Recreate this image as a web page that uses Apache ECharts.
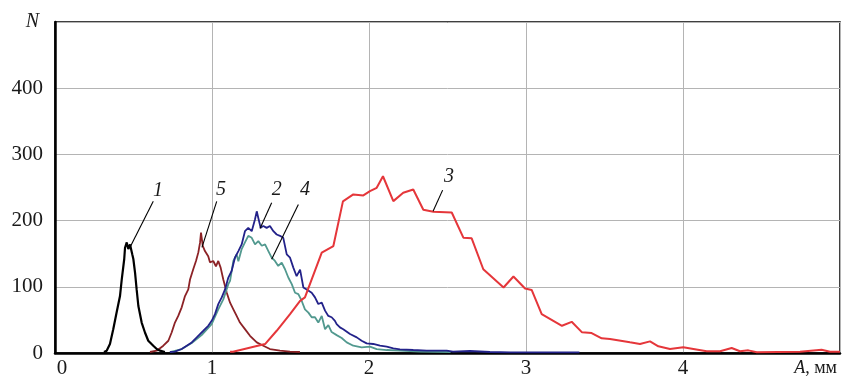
<!DOCTYPE html>
<html>
<head>
<meta charset="utf-8">
<script src="https://cdn.jsdelivr.net/npm/echarts@6/dist/echarts.min.js"></script>
<style>
  html, body { margin: 0; padding: 0; background: #fff; }
  #chart { width: 843px; height: 379px; }
</style>
</head>
<body>
<div id="chart"></div>
<script>
// Amplitude distributions N(A), A in mm
const xTicks = [0, 1, 2, 3, 4];
const yTicks = [0, 100, 200, 300, 400];

// Curve 1
const a1 = [0.312,0.329,0.350,0.371,0.393,0.414,0.425,0.441,0.446,0.457,0.467,0.478,0.492,0.499,0.510,0.520,0.531,0.552,0.573,0.594,0.626,0.648,0.669,0.700];
const n1 = [1.5,3.5,13.6,36,62,86,111,142,159,167,157,164,149,142,121,96,71,46,31,18.5,11,6,3.5,1.5];

// Curve 5
const a5 = [0.605,0.648,0.690,0.722,0.743,0.764,0.785,0.807,0.828,0.849,0.860,0.881,0.898,0.913,0.924,0.930,0.941,0.955,0.976,0.987,1.008,1.025,1.040,1.055,1.072,1.094,1.115,1.136,1.157,1.178,1.210,1.242,1.285,1.327,1.369,1.433,1.497,1.560];
const n5 = [1.5,3.5,11,18.5,31,46,56,69,86,96,111,127,139,152,167,182,162,154,146,137,139,131,139,129,111,91,76,66,56,46,36,26,16,11,6,3.5,2,1.5];

// Curve 2
const a2 = [0.732,0.764,0.807,0.839,0.871,0.903,0.945,0.976,0.998,1.019,1.040,1.062,1.083,1.104,1.125,1.146,1.168,1.189,1.210,1.231,1.253,1.274,1.285,1.295,1.310,1.327,1.348,1.369,1.391,1.412,1.433,1.454,1.476,1.497,1.518,1.539,1.561,1.582,1.603,1.635,1.656,1.677,1.699,1.720,1.741,1.762,1.783,1.794,1.815,1.836,1.879,1.922,1.953,1.985,2.027,2.070,2.113,2.155,2.197,2.282,2.367,2.495,2.535,2.643,2.770,2.900,3.340];
const n2 = [1.5,2,6,11,16,23.6,33.6,41,48.6,58.7,73.8,84,96,114,124,144,154,164,184,189,184,202,214,204,189,192,189,192,184,179,177,174,149,144,129,116,126,99,96,91,84,74,76,64,56,54,48.6,43.7,38.7,36,28.6,23.6,18.5,14.6,13.6,11,9.5,7,5.6,4.5,3.5,3.5,2,3,1.5,0.8,0.8];

// Curve 4
const a4 = [0.732,0.807,0.871,0.934,0.998,1.040,1.072,1.104,1.115,1.136,1.157,1.168,1.189,1.210,1.231,1.253,1.274,1.295,1.317,1.338,1.359,1.380,1.401,1.422,1.444,1.465,1.486,1.508,1.529,1.550,1.571,1.592,1.614,1.635,1.656,1.677,1.699,1.720,1.741,1.762,1.794,1.826,1.858,1.900,1.953,2.006,2.049,2.113,2.197,2.325,2.520];
const n4 = [1.5,6,15,27,43.7,66,81,104,109,139,149,138.5,157,167,177,174,164,169,162,164,154,144,139,131.5,136.6,126.5,114,104,91,89,79,66,61,54,54,46,56,36,42,31.6,27,22.6,16,11,8.6,9.5,6,4.5,3.5,2,1.5];

// Curve 3
const a3 = [1.115,1.134,1.338,1.412,1.497,1.561,1.592,1.699,1.773,1.834,1.900,1.964,2.006,2.049,2.089,2.155,2.218,2.282,2.346,2.410,2.527,2.601,2.654,2.728,2.857,2.920,2.994,3.036,3.100,3.229,3.291,3.357,3.418,3.482,3.535,3.662,3.726,3.790,3.843,3.917,4.002,4.066,4.151,4.236,4.310,4.363,4.416,4.470,4.745,4.883,4.936,5.000];
const n3 = [2,2,13.5,33.6,58.7,78.8,84,151.7,161.6,229,239.5,238,244.4,249.5,267,229.4,242,247,216.4,213.4,212.3,174.2,173.2,126.5,99,115.5,97.4,95.3,58.7,41.1,47.1,31.2,30.1,22.1,21.1,16.1,13.6,17.6,10.1,6,8.6,6,2.6,2.6,7.5,2.6,4,1,2,5,2,2];

// Curve callouts: number, text position, leader start, leader tip (data units)
const callouts = [
  { text: '1', at: [0.656, 245.5], from: [0.626, 229.4], to: [0.478, 159.6] },
  { text: '5', at: [1.057, 247],   from: [1.030, 229],   to: [0.936, 159.6] },
  { text: '2', at: [1.412, 246],   from: [1.380, 227],   to: [1.306, 188] },
  { text: '4', at: [1.592, 247],   from: [1.550, 224.4], to: [1.380, 141.6] },
  { text: '3', at: [2.510, 266.6], from: [2.469, 246],   to: [2.408, 214] }
];

const zip = (xs, ys) => xs.map((x, i) => [x, ys[i]]);
const serif = '"Liberation Serif", "Times New Roman", serif';

const chart = echarts.init(document.getElementById('chart'), null, { renderer: 'canvas' });

function lineSeries(name, xs, ys, color, width) {
  return {
    name, type: 'line', data: zip(xs, ys),
    showSymbol: false, symbol: 'none', smooth: false,
    lineStyle: { color, width },
    animation: false, z: 3
  };
}

chart.setOption({
  animation: false,
  backgroundColor: '#fff',
  grid: { left: 55, right: 3, top: 22, bottom: 25, show: true, borderColor: '#000', borderWidth: 1.5, backgroundColor: 'transparent' },
  xAxis: {
    type: 'value', min: 0, max: 5, interval: 1,
    axisLine: { show: true, onZero: false, lineStyle: { color: '#000', width: 2.5 } },
    axisTick: { show: false },
    splitLine: { show: true, lineStyle: { color: '#b4b4b4', width: 1 } },
    axisLabel: {
      margin: 5, color: '#1a1a1a', fontFamily: serif, fontSize: 21,
      formatter: v => xTicks.includes(v) ? (v === 0 ? '{z|0}' : String(v)) : '',
      rich: { z: { padding: [0, 0, 0, 14], fontFamily: serif, fontSize: 21, color: '#1a1a1a' } }
    },
    name: '{i|A}, мм', nameLocation: 'end', nameGap: 0,
    nameTextStyle: {
      align: 'right', verticalAlign: 'top', padding: [6, 3, 0, 0],
      fontFamily: serif, fontSize: 18, color: '#1a1a1a',
      rich: { i: { fontStyle: 'italic', fontFamily: serif, fontSize: 18, color: '#1a1a1a' } }
    }
  },
  yAxis: {
    type: 'value', min: 0, max: 500, interval: 100,
    axisLine: { show: true, lineStyle: { color: '#000', width: 2.5 } },
    axisTick: { show: false },
    splitLine: { show: true, lineStyle: { color: '#b4b4b4', width: 1 } },
    axisLabel: {
      margin: 12, color: '#1a1a1a', fontFamily: serif, fontSize: 21,
      formatter: v => yTicks.includes(v) ? String(v) : ''
    },
    name: 'N', nameLocation: 'end', nameGap: 0,
    nameTextStyle: {
      align: 'right', verticalAlign: 'middle', padding: [0, 16, 0, 0],
      fontFamily: serif, fontStyle: 'italic', fontSize: 20, color: '#1a1a1a'
    }
  },
  series: [
    lineSeries('5', a5, n5, '#8c2226', 1.8),
    lineSeries('4', a4, n4, '#52998f', 1.8),
    lineSeries('2', a2, n2, '#23228a', 1.8),
    lineSeries('3', a3, n3, '#e5363a', 2),
    lineSeries('1', a1, n1, '#000000', 2.2)
  ]
});

// Callout numbers and leader lines, placed through the grid's data scale
const px = p => chart.convertToPixel({ gridIndex: 0 }, p);
const elements = [];
callouts.forEach(c => {
  const f = px(c.from), t = px(c.to), a = px(c.at);
  elements.push({
    type: 'line', z: 10,
    shape: { x1: f[0], y1: f[1], x2: t[0], y2: t[1] },
    style: { stroke: '#000', lineWidth: 1.1 }
  });
  elements.push({
    type: 'text', z: 10, x: a[0], y: a[1],
    style: {
      text: c.text, fill: '#1a1a1a', font: 'italic 20px ' + serif,
      textAlign: 'center', textVerticalAlign: 'middle'
    }
  });
});
chart.setOption({ graphic: { elements } });
</script>
</body>
</html>
